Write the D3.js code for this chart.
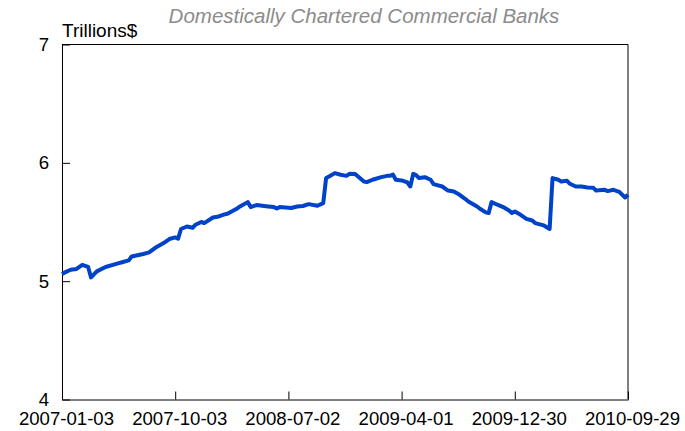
<!DOCTYPE html>
<html>
<head>
<meta charset="utf-8">
<script src="https://cdn.jsdelivr.net/npm/d3@7"></script>
<style>
  body { margin: 0; background: #fff; }
  text { font-family: "Liberation Sans", Arial, sans-serif; }
</style>
</head>
<body>
<div id="chart"></div>
<script>
/* CONSTANTS AND GLOBALS */
const width = 685,
  height = 431,
  margin = { top: 44.5, bottom: 31.5, left: 62, right: 57 };

const title = "Domestically Chartered Commercial Banks";
const unitLabel = "Trillions$";

// weeks after 2007-01-03 (weekly Wednesday data) and level in trillions of dollars
const startDate = "2007-01-03";
const weekNo = [
  0, 1, 3, 5, 7, 9, 10, 12, 15, 19, 21, 23, 24, 28, 30, 32, 35, 37, 39, 40,
  41, 43, 45, 46, 48, 49, 52, 54, 56, 57, 60, 61, 64, 65, 67, 71, 73, 74, 75, 79,
  81, 83, 85, 88, 90, 91, 92, 94, 96, 98, 99, 101, 104, 105, 107, 110, 112, 113, 114, 115,
  117, 119, 120, 121, 122, 123, 125, 127, 128, 131, 133, 135, 137, 139, 140, 143, 144, 146, 147, 148,
  150, 152, 154, 155, 156, 158, 160, 162, 163, 166, 168, 169, 171, 172, 174, 175, 177, 179, 181, 183,
  184, 187, 188, 190, 192, 194, 195
];
const level = [
  5.061, 5.074, 5.097, 5.103, 5.137, 5.120, 5.032, 5.083, 5.120, 5.148, 5.162, 5.176, 5.209, 5.230, 5.243, 5.280, 5.322, 5.356, 5.370, 5.359,
  5.441, 5.462, 5.451, 5.477, 5.500, 5.491, 5.538, 5.547, 5.564, 5.570, 5.609, 5.626, 5.668, 5.626, 5.643, 5.631, 5.626, 5.614, 5.626, 5.618,
  5.631, 5.635, 5.651, 5.637, 5.660, 5.871, 5.884, 5.913, 5.899, 5.890, 5.907, 5.905, 5.842, 5.837, 5.857, 5.879, 5.890, 5.890, 5.901, 5.857,
  5.851, 5.834, 5.800, 5.907, 5.896, 5.871, 5.879, 5.857, 5.820, 5.800, 5.766, 5.758, 5.730, 5.694, 5.673, 5.631, 5.612, 5.581, 5.576, 5.668,
  5.646, 5.626, 5.597, 5.576, 5.589, 5.561, 5.527, 5.513, 5.491, 5.471, 5.441, 5.871, 5.857, 5.842, 5.848, 5.823, 5.800, 5.800, 5.792, 5.789,
  5.766, 5.772, 5.761, 5.772, 5.755, 5.707, 5.730
];

const xTickLabels = ["2007-01-03", "2007-10-03", "2008-07-02", "2009-04-01", "2009-12-30", "2010-09-29"];
const yTicks = [4, 5, 6, 7];

const parseDate = d3.utcParse("%Y-%m-%d");
const start = parseDate(startDate);
const data = weekNo.map((w, i) => ({ date: d3.utcDay.offset(start, w * 7), value: level[i] }));

/* SCALES */
const xScale = d3.scaleUtc()
  .domain([parseDate(xTickLabels[0]), parseDate(xTickLabels[xTickLabels.length - 1])])
  .range([margin.left, width - margin.right]);

const yScale = d3.scaleLinear()
  .domain([4, 7])
  .range([height - margin.bottom, margin.top]);

/* SVG */
const svg = d3.select("#chart")
  .append("svg")
  .attr("width", width)
  .attr("height", height);

// frame: top and right lines
svg.append("line")
  .attr("x1", margin.left).attr("x2", width - margin.right)
  .attr("y1", margin.top).attr("y2", margin.top)
  .attr("stroke", "#000");
svg.append("line")
  .attr("x1", width - margin.right).attr("x2", width - margin.right)
  .attr("y1", margin.top).attr("y2", height - margin.bottom)
  .attr("stroke", "#000");

// x axis, ticks pointing inside
const xAxis = d3.axisBottom(xScale)
  .tickValues(xTickLabels.map(parseDate))
  .tickFormat(d3.utcFormat("%Y-%m-%d"))
  .tickSizeInner(-8)
  .tickSizeOuter(0)
  .tickPadding(12.5);

svg.append("g")
  .attr("transform", `translate(0,${height - margin.bottom})`)
  .call(xAxis)
  .call(g => g.selectAll("text").attr("font-size", 18.6).attr("dx", 4).attr("fill", "#000").attr("font-family", null))
  .call(g => g.selectAll("line, path").attr("stroke", "#000"));

// y axis
const yAxis = d3.axisLeft(yScale)
  .tickValues(yTicks)
  .tickFormat(d3.format("d"))
  .tickSizeInner(-8)
  .tickSizeOuter(0)
  .tickPadding(13);

svg.append("g")
  .attr("transform", `translate(${margin.left},0)`)
  .call(yAxis)
  .call(g => g.selectAll("text").attr("font-size", 18.6).attr("fill", "#000").attr("font-family", null))
  .call(g => g.selectAll("line, path").attr("stroke", "#000"));

// labels
svg.append("text")
  .attr("x", margin.left)
  .attr("y", 36.5)
  .attr("font-size", 19)
  .text(unitLabel);

svg.append("text")
  .attr("x", 364)
  .attr("y", 22.5)
  .attr("text-anchor", "middle")
  .attr("font-size", 20.5)
  .attr("font-style", "italic")
  .attr("fill", "#8c8c8c")
  .text(title);

/* LINE */
const line = d3.line()
  .x(d => xScale(d.date))
  .y(d => yScale(d.value));

svg.append("path")
  .datum(data)
  .attr("fill", "none")
  .attr("stroke", "#0042c8")
  .attr("stroke-width", 4)
  .attr("stroke-linejoin", "round")
  .attr("d", line);
</script>
</body>
</html>
